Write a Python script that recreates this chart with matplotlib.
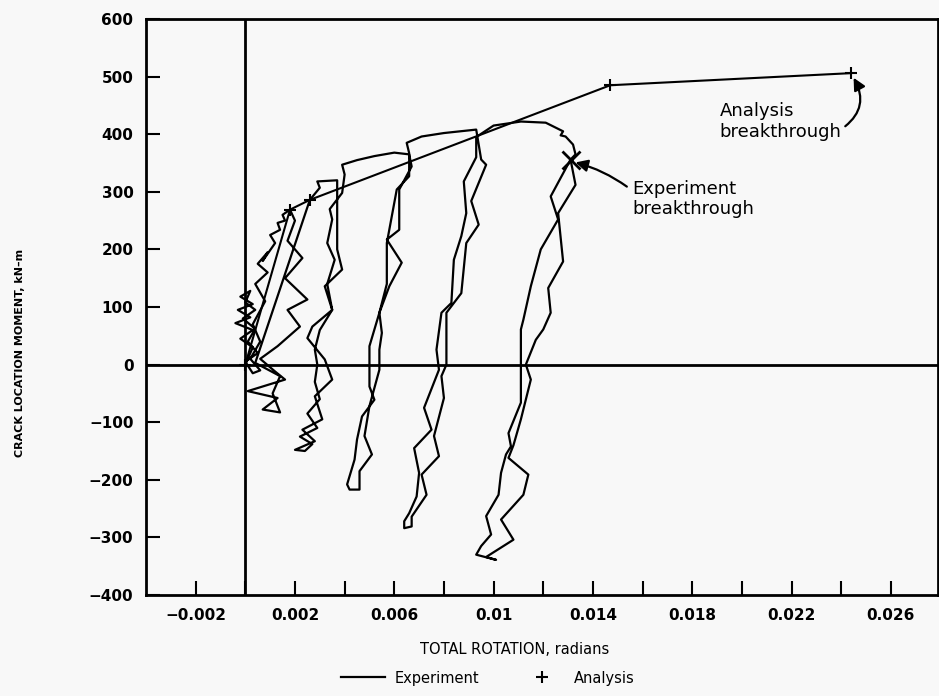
import matplotlib
matplotlib.use("Agg")
import matplotlib.pyplot as plt

# Experiment hysteresis (rotation rad, moment kN-m)
start_zigzag = [(0.0, 0), (0.0003, 30), (-0.0002, 45), (0.0003, 60), (-0.0004, 72), (0.0002, 82),
                (-0.0003, 95), (0.0003, 105), (-0.0002, 118), (0.0002, 128), (0.0, 108), (0.0004, 95),
                (-0.0001, 80), (0.0004, 62), (0.0001, 40), (0.0005, 20), (0.0, 5), (0.0003, -15),
                (0.0006, -10), (0.0002, 10), (0.0006, 40), (0.0003, 70), (0.0008, 110), (0.0004, 140),
                (0.0009, 160), (0.0005, 175), (0.0009, 195), (0.0007, 180), (0.0012, 211), (0.0010, 225),
                (0.0014, 234), (0.0013, 246), (0.0016, 250), (0.0015, 260), (0.0018, 269)]
cycle_a_down = [(0.0020, 250), (0.0017, 215), (0.0023, 185), (0.0016, 150), (0.0025, 113), (0.0017, 95),
                (0.0022, 66), (0.0013, 32), (0.0006, 10), (0.0012, -12), (0.0016, -26), (0.0001, -46),
                (0.0013, -58), (0.0007, -78), (0.0014, -83)]
cycle_a_up = [(0.0011, -50), (0.0014, -20), (0.0004, 3), (0.0026, 286), (0.0030, 307), (0.0029, 318),
              (0.0037, 320)]
cycle_b_down = [(0.0037, 280), (0.0037, 200), (0.0039, 165), (0.0032, 136), (0.0035, 95), (0.0027, 66),
                (0.0025, 46), (0.0032, 9), (0.0035, -26), (0.0028, -55), (0.0031, -95), (0.0023, -113),
                (0.0028, -133), (0.0020, -148), (0.0024, -150)]
cycle_b_up = [(0.0027, -138), (0.0022, -125), (0.0029, -110), (0.0025, -85), (0.0030, -60), (0.0028, -30),
              (0.0029, 0), (0.0028, 26), (0.0030, 60), (0.0035, 95), (0.0033, 140), (0.0036, 182),
              (0.0033, 211), (0.0035, 252), (0.0034, 270), (0.0039, 298), (0.0040, 330), (0.0039, 347),
              (0.0045, 355), (0.0052, 362), (0.0060, 368), (0.0066, 365)]
cycle_c_down = [(0.0067, 344), (0.0062, 304), (0.0062, 234), (0.0057, 217), (0.0063, 177), (0.0058, 136),
                (0.0054, 90), (0.0050, 32), (0.0050, -3), (0.0050, -38), (0.0052, -61), (0.0047, -90),
                (0.0045, -130), (0.0044, -165), (0.0041, -208), (0.0042, -217), (0.0046, -217)]
cycle_c_up = [(0.0046, -185), (0.0051, -156), (0.0048, -124), (0.0050, -72), (0.0054, -9), (0.0054, 26),
              (0.0055, 55), (0.0054, 90), (0.0057, 140), (0.0057, 211), (0.0061, 304), (0.0066, 327),
              (0.0066, 367), (0.0065, 385), (0.0071, 396), (0.0080, 402), (0.0093, 408)]
cycle_d_down = [(0.0095, 356), (0.0097, 347), (0.0091, 284), (0.0094, 243), (0.0089, 211), (0.0087, 124),
                (0.0081, 90), (0.0081, 32), (0.0081, 0), (0.0079, -20), (0.0080, -58), (0.0076, -124),
                (0.0078, -159), (0.0071, -191), (0.0073, -226), (0.0067, -264), (0.0067, -281),
                (0.0064, -284), (0.0064, -272), (0.0066, -258)]
cycle_d_up = [(0.0069, -229), (0.0070, -188), (0.0068, -145), (0.0075, -113), (0.0072, -75), (0.0078, -9),
              (0.0077, 26), (0.0079, 90), (0.0083, 107), (0.0084, 182), (0.0087, 223), (0.0089, 263),
              (0.0088, 318), (0.0093, 360), (0.0093, 395), (0.0100, 415), (0.0111, 422), (0.0121, 420),
              (0.0128, 405), (0.0127, 398), (0.0129, 396), (0.0132, 382), (0.0133, 365), (0.0131, 356)]
cycle_e_down = [(0.0123, 292), (0.0126, 252), (0.0119, 200), (0.0115, 136), (0.0112, 78), (0.0111, 61),
                (0.0111, 0), (0.0111, -66), (0.0106, -119), (0.0107, -142), (0.0105, -156), (0.0103, -188),
                (0.0102, -226), (0.0097, -263), (0.0099, -295), (0.0095, -315), (0.0093, -330),
                (0.0101, -339), (0.0097, -334)]
cycle_e_up = [(0.0108, -304), (0.0103, -269), (0.0112, -226), (0.0114, -191), (0.0106, -162), (0.0108, -140),
              (0.0111, -95), (0.0115, -26), (0.0113, 0), (0.0117, 43), (0.0120, 61), (0.0123, 90),
              (0.0122, 133), (0.0128, 179), (0.0126, 263), (0.0133, 312), (0.0131, 356)]

# Analysis points
analysis_rot = [0.0, 0.0018, 0.0026, 0.0147, 0.0244]
analysis_mom = [0, 269, 286, 485, 506]

# breakthrough point of the experiment
exp_break = (0.0131, 356)

xtick_vals = [-0.002, 0.0, 0.002, 0.004, 0.006, 0.008, 0.010, 0.012, 0.014, 0.016, 0.018, 0.020, 0.022, 0.024, 0.026]
xtick_labels = ["\u22120.002", "", "0.002", "", "0.006", "", "0.01", "", "0.014", "", "0.018", "", "0.022", "", "0.026"]
ytick_vals = [-400, -300, -200, -100, 0, 100, 200, 300, 400, 500, 600]

exp_points = (start_zigzag + cycle_a_down + cycle_a_up + cycle_b_down + cycle_b_up + cycle_c_down
              + cycle_c_up + cycle_d_down + cycle_d_up + cycle_e_down + cycle_e_up)
exp_rot = [p[0] for p in exp_points]
exp_mom = [p[1] for p in exp_points]

bg = "#f8f8f8"
fig = plt.figure(figsize=(9.39, 6.96), dpi=100, facecolor=bg)
ax = fig.add_axes([146 / 939, 1 - 595 / 696, 792 / 939, 576 / 696], facecolor=bg)

ax.axhline(0, color="black", lw=2.0, zorder=1)
ax.axvline(0, color="black", lw=2.0, zorder=1)

ax.plot(exp_rot, exp_mom, color="black", lw=1.6, label="Experiment", zorder=3)
ax.plot(analysis_rot, analysis_mom, color="black", lw=1.5, zorder=3)
ax.plot(analysis_rot, analysis_mom, linestyle="none", marker="+", ms=9, mew=1.5,
        color="black", label="Analysis", zorder=4)
ax.plot([exp_break[0]], [exp_break[1]], marker="x", ms=13, mew=2, color="black", zorder=5)

ax.set_xlim(-0.004, 0.0279)
ax.set_ylim(-400, 600)
ax.set_xticks(xtick_vals, labels=xtick_labels)
ax.set_yticks(ytick_vals, labels=[str(v).replace("-", "\u2212") for v in ytick_vals])
ax.tick_params(direction="in", length=10, width=1.5, labelsize=11, pad=9)
for lab in ax.get_xticklabels() + ax.get_yticklabels():
    lab.set_fontweight("bold")
for s in ax.spines.values():
    s.set_linewidth(2)

# annotations
ax.annotate("Analysis\nbreakthrough", xy=(analysis_rot[-1] + 0.0001, analysis_mom[-1] - 8),
            xytext=(0.0191, 422), ha="left", va="center", fontsize=13, linespacing=1.15,
            arrowprops=dict(arrowstyle="-|>", color="black", lw=1.6, mutation_scale=18,
                            relpos=(1.0, 0.3), shrinkA=1, shrinkB=0,
                            connectionstyle="arc3,rad=0.45"))
ax.annotate("Experiment\nbreakthrough", xy=(exp_break[0] + 0.0002, exp_break[1] - 5),
            xytext=(0.01557, 288), ha="left", va="center", fontsize=13, linespacing=1.15,
            arrowprops=dict(arrowstyle="-|>", color="black", lw=1.6, mutation_scale=18,
                            relpos=(0.0, 0.72), shrinkA=2, shrinkB=0,
                            connectionstyle="arc3,rad=0.1"))

fig.text(20 / 939, 1 - 353 / 696, "CRACK LOCATION MOMENT, kN\u2013m", rotation=90,
         ha="center", va="center", fontsize=8, fontweight="bold")
fig.text(515 / 939, 1 - 650 / 696, "TOTAL ROTATION, radians", ha="center", va="center", fontsize=10.5)

fig.legend(loc="center", bbox_to_anchor=(488 / 939, 1 - 678 / 696), ncol=2, frameon=False,
           fontsize=10.5, handlelength=3.0, columnspacing=2.8, handletextpad=0.7)

fig.savefig("out.png", dpi=100, facecolor=bg)
